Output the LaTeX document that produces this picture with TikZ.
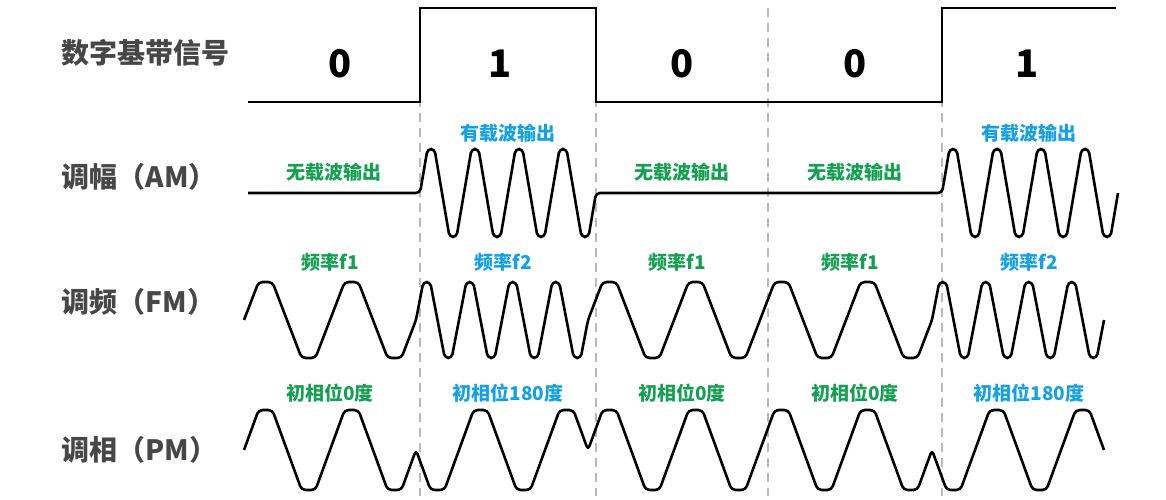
\documentclass[tikz,border=0pt]{standalone}
\usepackage{fontspec}
\setmainfont{Noto Sans CJK SC}
\begin{document}
\begin{tikzpicture}[x=1pt,y=-1pt,
  sig/.style={line width=2.6pt,black,rounded corners=4pt,line join=round},
  grid/.style={line width=2.2pt,gray!55,dash pattern=on 9pt off 6pt},
  lab/.style={anchor=west,font=\fontsize{28}{30}\selectfont\bfseries,text=black!72},
  bit/.style={font=\fontsize{38}{40}\selectfont\bfseries},
  gn/.style={font=\fontsize{19}{21}\selectfont\bfseries,text={rgb,255:red,20;green,160;blue,80}},
  bl/.style={font=\fontsize{19}{21}\selectfont\bfseries,text={rgb,255:red,20;green,160;blue,230}}]
\useasboundingbox (0,0) rectangle (1166,500);
\foreach \x in {420,596,768,942} \draw[grid] (\x,8) -- (\x,496);
% digital
\draw[line width=2.6pt,line join=miter] (248,102) -- (420,102) -- (420,8) -- (596,8) -- (596,102) -- (942,102) -- (942,8) -- (1116,8);
\foreach \x/\b in {340/0,500/1,682/0,855/0,1027/1} \node[bit] at (\x,64) {\b};
% labels
\node[lab] (l1) at (58,53) {数字基带信号};
\node[lab] (l2) at (58,177) {调幅（AM）};
\node[lab] (l3) at (58,302) {调频（FM）};
\node[lab] (l4) at (58,450) {调相（PM）};
% AM
\def\A{44}
\draw[sig] (248,193) -- (420,193)
  \foreach \k in {1,...,4}{ -- ++(7.5,-\A) -- ++(7,0) -- ++(15,2*\A) -- ++(7,0) -- ++(7.5,-\A)}
  -- (942,193)
  \foreach \k in {1,...,4}{ -- ++(7.5,-\A) -- ++(7,0) -- ++(15,2*\A) -- ++(7,0) -- ++(7.5,-\A)};
\node[gn] at (334,172) {无载波输出};
\node[bl] at (508,133) {有载波输出};
\node[gn] at (682,172) {无载波输出};
\node[gn] at (855,172) {无载波输出};
\node[bl] at (1029,133) {有载波输出};
% FM
\def\B{38}
\draw[sig] (244,320)
  \foreach \k in {1,2}{ -- ++(14.6,-\B) -- ++(13.8,0) -- ++(29.2,2*\B) -- ++(13.8,0) -- ++(14.6,-\B)}
  \foreach \k in {1,...,4}{ -- ++(7.3,-\B) -- ++(6.9,0) -- ++(14.6,2*\B) -- ++(6.9,0) -- ++(7.3,-\B)}
  \foreach \k in {1,...,4}{ -- ++(14.6,-\B) -- ++(13.8,0) -- ++(29.2,2*\B) -- ++(13.8,0) -- ++(14.6,-\B)}
  \foreach \k in {1,...,4}{ -- ++(7.3,-\B) -- ++(6.9,0) -- ++(14.6,2*\B) -- ++(6.9,0) -- ++(7.3,-\B)};
\node[gn] at (330,262) {频率f1};
\node[bl] at (503,262) {频率f2};
\node[gn] at (677,262) {频率f1};
\node[gn] at (850,262) {频率f1};
\node[bl] at (1029,262) {频率f2};
% PM
\def\C{40}
\draw[sig] (244,450)
  \foreach \k in {1,2}{ -- ++(14.6,-\C) -- ++(13.8,0) -- ++(29.2,2*\C) -- ++(13.8,0) -- ++(14.6,-\C)}
  \foreach \k in {1,2}{ -- ++(14.6,\C) -- ++(13.8,0) -- ++(29.2,-2*\C) -- ++(13.8,0) -- ++(14.6,\C)}
  \foreach \k in {1,...,4}{ -- ++(14.6,-\C) -- ++(13.8,0) -- ++(29.2,2*\C) -- ++(13.8,0) -- ++(14.6,-\C)}
  \foreach \k in {1,2}{ -- ++(14.6,\C) -- ++(13.8,0) -- ++(29.2,-2*\C) -- ++(13.8,0) -- ++(14.6,\C)};
\node[gn] at (330,393) {初相位0度};
\node[bl] at (508,393) {初相位180度};
\node[gn] at (682,393) {初相位0度};
\node[gn] at (855,393) {初相位0度};
\node[bl] at (1029,393) {初相位180度};
\end{tikzpicture}
\end{document}
